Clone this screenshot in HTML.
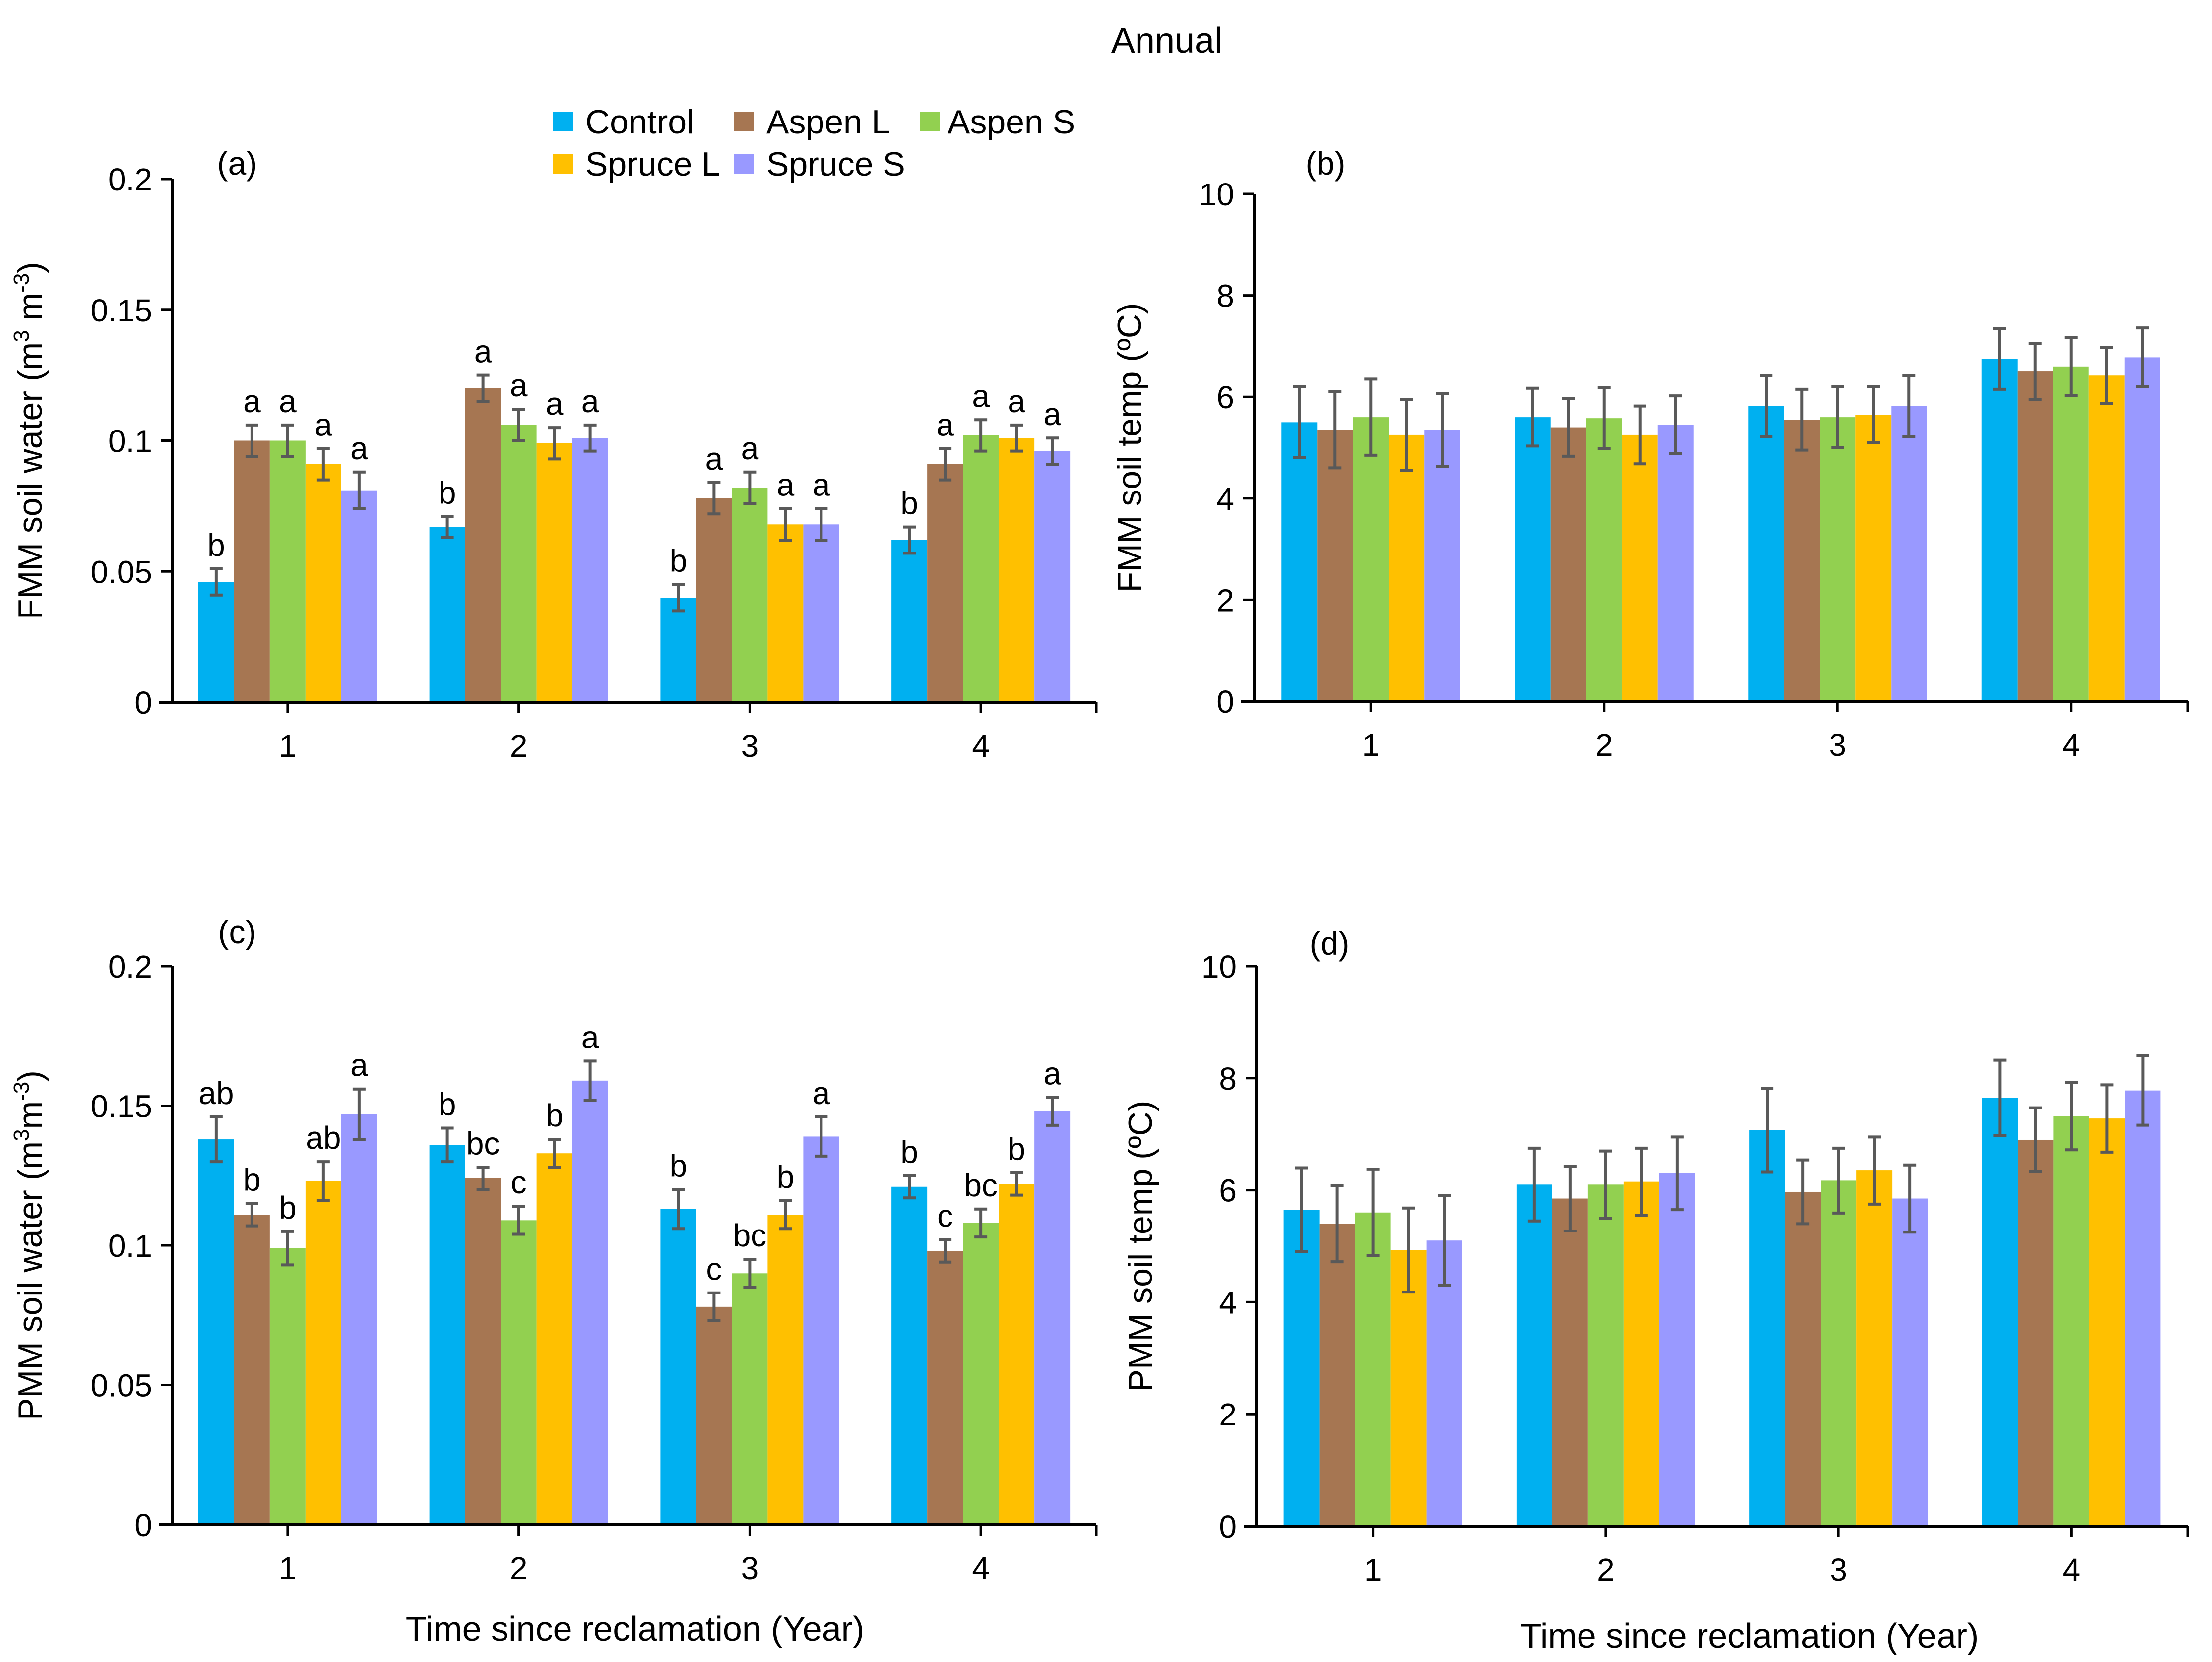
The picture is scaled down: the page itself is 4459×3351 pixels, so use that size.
<!DOCTYPE html>
<html><head><meta charset="utf-8"><style>
html,body{margin:0;padding:0;background:#fff}
svg{display:block;font-family:"Liberation Sans",Arial,sans-serif}
</style></head><body>
<svg id="fig" width="4459" height="3351" viewBox="0 0 4459 3351" xmlns="http://www.w3.org/2000/svg">
<text x="2352" y="106" font-size="72" text-anchor="middle">Annual</text>
<g font-size="68">
 <rect x="1115" y="225" width="40" height="40" fill="#00B0F0"/>
 <text x="1180" y="269">Control</text>
 <rect x="1480" y="225" width="40" height="40" fill="#A67652"/>
 <text x="1545" y="269">Aspen L</text>
 <rect x="1855" y="225" width="40" height="40" fill="#92D050"/>
 <text x="1910" y="269">Aspen S</text>
 <rect x="1115" y="310" width="40" height="40" fill="#FFC000"/>
 <text x="1180" y="354">Spruce L</text>
 <rect x="1480" y="310" width="40" height="40" fill="#9999FF"/>
 <text x="1545" y="354">Spruce S</text>
</g>
</svg>
<script>
const categories = ["1","2","3","4"];
const seriesNames = ["Control","Aspen L","Aspen S","Spruce L","Spruce S"];
const colors = ["#00B0F0","#A67652","#92D050","#FFC000","#9999FF"];
// panel a: FMM soil water
const aVals = [[0.046,0.100,0.100,0.091,0.081],[0.067,0.120,0.106,0.099,0.101],[0.040,0.078,0.082,0.068,0.068],[0.062,0.091,0.102,0.101,0.096]];
const aErr = [[0.005,0.006,0.006,0.006,0.007],[0.004,0.005,0.006,0.006,0.005],[0.005,0.006,0.006,0.006,0.006],[0.005,0.006,0.006,0.005,0.005]];
const aLetters = [["b","a","a","a","a"],["b","a","a","a","a"],["b","a","a","a","a"],["b","a","a","a","a"]];
const aTicks = ["0","0.05","0.1","0.15","0.2"];
// panel b: FMM soil temp
const bVals = [[5.5,5.35,5.6,5.25,5.35],[5.6,5.4,5.58,5.25,5.45],[5.82,5.55,5.6,5.65,5.82],[6.75,6.5,6.6,6.42,6.78]];
const bErr = [[0.7,0.75,0.75,0.7,0.72],[0.57,0.57,0.6,0.57,0.57],[0.6,0.6,0.6,0.55,0.6],[0.6,0.55,0.57,0.55,0.58]];
const bTicks = ["0","2","4","6","8","10"];
// panel c: PMM soil water
const cVals = [[0.138,0.111,0.099,0.123,0.147],[0.136,0.124,0.109,0.133,0.159],[0.113,0.078,0.090,0.111,0.139],[0.121,0.098,0.108,0.122,0.148]];
const cErr = [[0.008,0.004,0.006,0.007,0.009],[0.006,0.004,0.005,0.005,0.007],[0.007,0.005,0.005,0.005,0.007],[0.004,0.004,0.005,0.004,0.005]];
const cLetters = [["ab","b","b","ab","a"],["b","bc","c","b","a"],["b","c","bc","b","a"],["b","c","bc","b","a"]];
const cTicks = ["0","0.05","0.1","0.15","0.2"];
// panel d: PMM soil temp
const dVals = [[5.65,5.4,5.6,4.93,5.1],[6.1,5.85,6.1,6.15,6.3],[7.07,5.97,6.17,6.35,5.85],[7.65,6.9,7.32,7.28,7.78]];
const dErr = [[0.75,0.68,0.77,0.75,0.8],[0.65,0.58,0.6,0.6,0.65],[0.75,0.57,0.58,0.6,0.6],[0.67,0.57,0.6,0.6,0.62]];
const dTicks = ["0","2","4","6","8","10"];

const NS="http://www.w3.org/2000/svg";
const svg=document.getElementById('fig');
function mk(tag,attrs,parent,txt){const e=document.createElementNS(NS,tag);for(const k in attrs)e.setAttribute(k,attrs[k]);if(txt!==undefined)e.textContent=txt;parent.appendChild(e);return e;}

function panel(cfg){
  const g=mk('g',{},svg);
  
  
  const ymax=parseFloat(cfg.ticks[cfg.ticks.length-1]);
  const ys=v=>cfg.y0-(v/ymax)*(cfg.y0-cfg.ytop);
  const step=(cfg.x1-cfg.x0)/categories.length;
  const xs=i=>cfg.x0+step*(i+0.5);
  const bw=72;
  cfg.vals.forEach((grp,i)=>{
    grp.forEach((v,j)=>{
      const x=xs(i)-bw*2.5+j*bw;
      const r=mk('rect',{x:x,y:ys(v),width:bw,height:cfg.y0-ys(v),fill:colors[j]},g);
      
      
      const e=cfg.err[i][j], cx=x+bw/2;
      const eb=mk('path',{d:`M${cx},${ys(v+e)}V${ys(v-e)}M${cx-13},${ys(v+e)}H${cx+13}M${cx-13},${ys(v-e)}H${cx+13}`,stroke:'#595959','stroke-width':6,fill:'none'},g);
      
      
      if(cfg.letters){
        const t=mk('text',{x:cx,y:ys(v+e)-26,'font-size':64,'text-anchor':'middle'},g,cfg.letters[i][j]);
        
        
      }
    });
  });
  const ax=mk('path',{d:`M${cfg.x0},${cfg.ytop}V${cfg.y0}M${cfg.x0-26},${cfg.y0}H${cfg.x1}`,stroke:'#000','stroke-width':6,fill:'none'},g);
  
  
  cfg.ticks.forEach(tk=>{
    const y=ys(parseFloat(tk));
    const l=mk('line',{x1:cfg.x0-22,x2:cfg.x0,y1:y,y2:y,stroke:'#000','stroke-width':5},g);
    
    
    const t=mk('text',{x:cfg.x0-40,y:y+23,'font-size':64,'text-anchor':'end'},g,tk);
    
    
  });
  categories.forEach((c,i)=>{
    const x=xs(i);
    const l=mk('line',{x1:x,x2:x,y1:cfg.y0,y2:cfg.y0+22,stroke:'#000','stroke-width':5},g);
    
    
    const t=mk('text',{x:x,y:cfg.y0+110,'font-size':64,'text-anchor':'middle'},g,c);
    
    
  });
  const rt=mk('line',{x1:cfg.x1,x2:cfg.x1,y1:cfg.y0,y2:cfg.y0+22,stroke:'#000','stroke-width':5},g);
  
  
  const pl=mk('text',{x:cfg.labX,y:cfg.labY,'font-size':66,'text-anchor':'middle'},g,'('+cfg.id+')');
  
  
  const yt=mk('text',{transform:`translate(${cfg.ytX},${(cfg.y0+cfg.ytop)/2}) rotate(-90)`,'font-size':68,'text-anchor':'middle'},g);
  yt.innerHTML=cfg.ytitle;
  
  
  if(cfg.xtitle){
    const xt=mk('text',{x:cfg.xtX,y:cfg.xtY,'font-size':70,'text-anchor':'middle'},g,cfg.xtitle);
    
    
  }
}
panel({id:'a',vals:aVals,err:aErr,letters:aLetters,ticks:aTicks,x0:347,x1:2210,y0:1416,ytop:361,labX:478,labY:352,ytX:84,
  ytitle:'FMM soil water (m<tspan font-size="44" dy="-26">3</tspan><tspan dy="26"> m</tspan><tspan font-size="44" dy="-26">-3</tspan><tspan dy="26">)</tspan>'});
panel({id:'b',vals:bVals,err:bErr,ticks:bTicks,x0:2528,x1:4410,y0:1414,ytop:391,labX:2672,labY:352,ytX:2300,
  ytitle:'FMM soil temp (ºC)'});
panel({id:'c',vals:cVals,err:cErr,letters:cLetters,ticks:cTicks,x0:347,x1:2210,y0:3074,ytop:1948,labX:478,labY:1902,ytX:84,
  ytitle:'PMM soil water (m<tspan font-size="44" dy="-26">3</tspan><tspan dy="26">m</tspan><tspan font-size="44" dy="-26">-3</tspan><tspan dy="26">)</tspan>',
  xtitle:'Time since reclamation (Year)',xtX:1280,xtY:3308});
panel({id:'d',vals:dVals,err:dErr,ticks:dTicks,x0:2533,x1:4410,y0:3077,ytop:1948,labX:2680,labY:1925,ytX:2322,
  ytitle:'PMM soil temp (ºC)',xtitle:'Time since reclamation (Year)',xtX:3527,xtY:3322});
</script>
</body></html>
